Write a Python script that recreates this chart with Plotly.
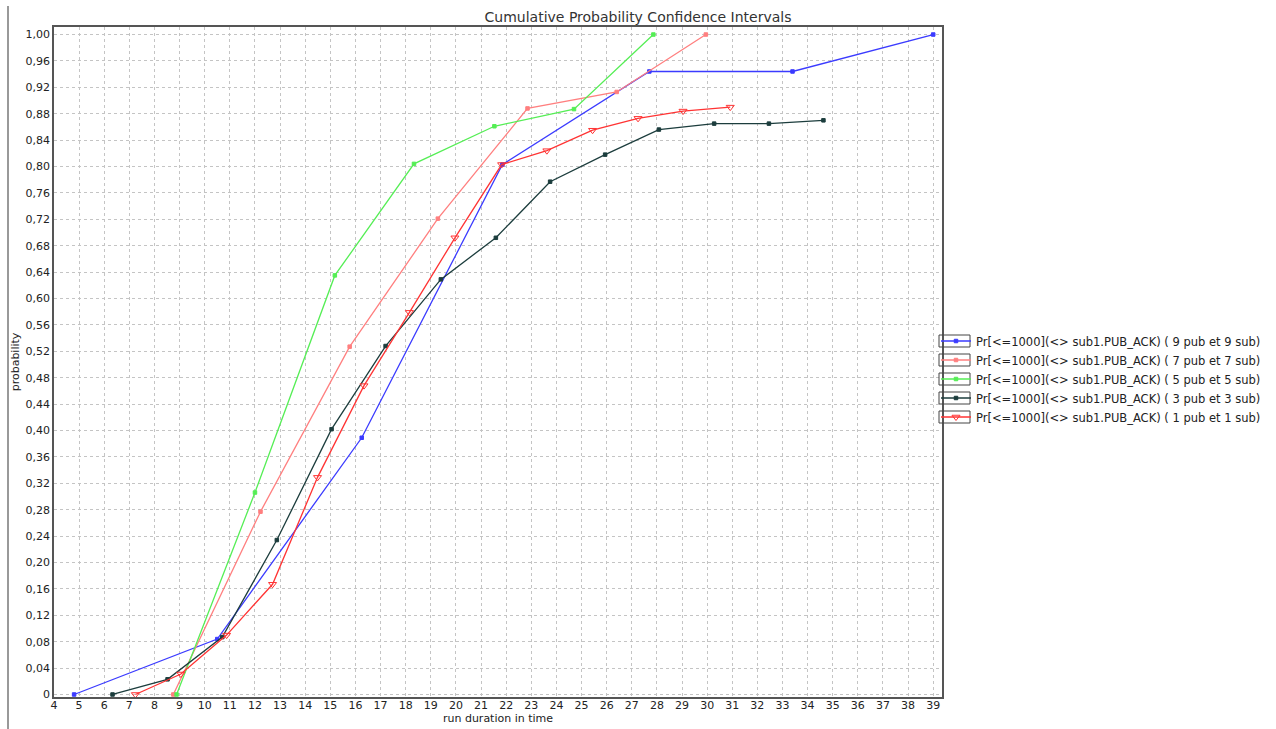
import plotly.graph_objects as go

# Cumulative probability curves, one per configuration (pub/sub count)
x_9 = [4.8, 10.5, 16.25, 21.85, 27.7, 33.4, 39.0]
y_9 = [0.0, 0.084, 0.389, 0.803, 0.944, 0.944, 1.0]

x_7 = [8.75, 12.22, 15.77, 19.28, 22.85, 26.4, 29.95]
y_7 = [0.0, 0.277, 0.527, 0.721, 0.888, 0.913, 1.0]

x_5 = [8.88, 12.0, 15.18, 18.33, 21.53, 24.7, 27.86]
y_5 = [0.0, 0.306, 0.635, 0.804, 0.861, 0.887, 1.0]

x_3 = [6.33, 8.52, 10.7, 12.87, 15.05, 17.2, 19.4, 21.59, 23.75, 25.94, 28.08, 30.28, 32.46, 34.63]
y_3 = [0.0, 0.023, 0.087, 0.234, 0.402, 0.528, 0.629, 0.692, 0.777, 0.818, 0.856, 0.865, 0.865, 0.870]

x_1 = [7.24, 9.05, 10.87, 12.7, 14.49, 16.34, 18.15, 19.96, 21.82, 23.62, 25.44, 27.25, 29.04, 30.92]
y_1 = [0.0, 0.031, 0.090, 0.167, 0.329, 0.468, 0.579, 0.692, 0.803, 0.824, 0.855, 0.873, 0.884, 0.890]

names = [
    "Pr[<=1000](<> sub1.PUB_ACK) ( 9 pub et 9 sub)",
    "Pr[<=1000](<> sub1.PUB_ACK) ( 7 pub et 7 sub)",
    "Pr[<=1000](<> sub1.PUB_ACK) ( 5 pub et 5 sub)",
    "Pr[<=1000](<> sub1.PUB_ACK) ( 3 pub et 3 sub)",
    "Pr[<=1000](<> sub1.PUB_ACK) ( 1 pub et 1 sub)",
]

y_ticks = [i * 0.04 for i in range(26)]
y_tick_text = ["0"] + [f"{v:.2f}".replace(".", ",") for v in y_ticks[1:]]
x_ticks = list(range(4, 40))

series = [
    (x_9, y_9, "#3b3bff", "square", 3.5),
    (x_7, y_7, "#ff7f7f", "square", 3.5),
    (x_5, y_5, "#55ee55", "square", 3.5),
    (x_3, y_3, "#1c3d3d", "square", 3.5),
    (x_1, y_1, "#ff3333", "triangle-down-open", 7),
]

fig = go.Figure()
for (xs, ys, col, sym, ms), nm in zip(series, names):
    fig.add_trace(go.Scatter(
        x=xs, y=ys, name=nm, mode="lines+markers",
        line=dict(color=col, width=1.3),
        marker=dict(color=col, symbol=sym, size=ms, line=dict(color=col, width=1)),
    ))

font_family = "DejaVu Sans, Verdana, sans-serif"

# plot area in pixels: left 54, right 942, top 27, bottom 697
PL, PR, PT, PB = 54, 942, 27, 697
PW, PH = PR - PL, PB - PT

fig.update_layout(
    width=1276, height=729,
    margin=dict(l=PL, r=1276 - PR, t=PT, b=729 - PB, autoexpand=False),
    paper_bgcolor="white", plot_bgcolor="white",
    font=dict(family=font_family, size=11, color="#222222"),
    title=dict(text="Cumulative Probability Confidence Intervals",
               x=0.5, xanchor="center",
               y=1 - 17 / 729, yanchor="middle",
               font=dict(size=14, color="#333333")),
    xaxis=dict(range=[4, 39.35], tickvals=x_ticks, ticks="", showgrid=True,
               gridcolor="#c4c4c4", griddash="dot", gridwidth=1,
               showline=True, linecolor="#555555", linewidth=1.5, mirror=True,
               zeroline=False, automargin=False, ticklabelstandoff=-3,
               title=dict(text="run duration in time", standoff=0,
                          font=dict(size=11))),
    yaxis=dict(range=[-0.0038, 1.0114], tickvals=y_ticks, ticktext=y_tick_text,
               ticks="", showgrid=True, gridcolor="#c4c4c4", griddash="dot",
               gridwidth=1, showline=True, linecolor="#555555", linewidth=1.5,
               mirror=True, zeroline=False, automargin=False,
               title=dict(text="probability", standoff=4, font=dict(size=11))),
    legend=dict(x=(936 - PL) / PW, xanchor="left", y=(PB - 379) / PH, yanchor="middle",
                font=dict(size=11.5, family=font_family), itemwidth=30,
                tracegroupgap=0, bgcolor="rgba(0,0,0,0)"),
    showlegend=True,
)

# thin separator line on the far left of the panel
fig.add_shape(type="line", xref="paper", yref="paper",
              x0=(8 - PL) / PW, x1=(8 - PL) / PW, y0=-0.05, y1=(PB - 6) / PH,
              line=dict(color="#777777", width=1.5))

# framed boxes around the legend symbols
for i in range(len(names)):
    cy = 379 + (i - 2) * 19
    fig.add_shape(type="rect", xref="paper", yref="paper",
                  x0=(939 - PL) / PW, x1=(970 - PL) / PW,
                  y0=(PB - (cy + 6)) / PH, y1=(PB - (cy - 6)) / PH,
                  line=dict(color="#444444", width=1))

fig.write_html("out.html")
